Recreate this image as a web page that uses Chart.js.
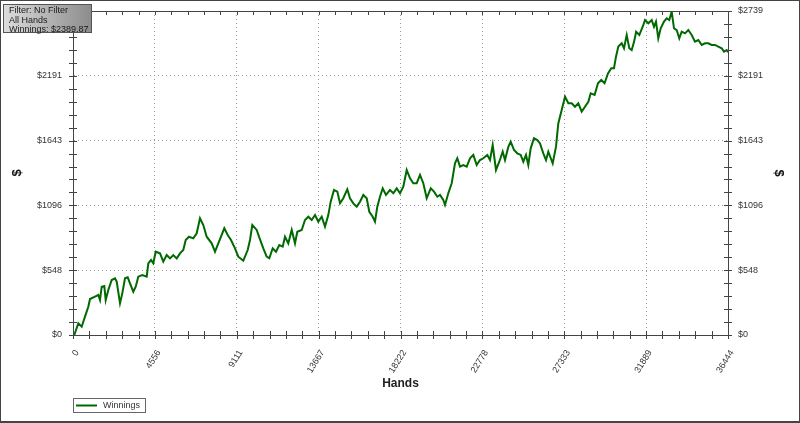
<!DOCTYPE html>
<html>
<head>
<meta charset="utf-8">
<script src="https://cdn.jsdelivr.net/npm/chart.js@4/dist/chart.umd.min.js"></script>
<style>
  body { margin: 0; background: #fff; }
  #wrap { position: relative; width: 800px; height: 423px; }
  #frame { position: absolute; left: 0; top: 0; width: 800px; height: 423px; box-sizing: border-box;
           border-style: solid; border-color: #444; border-width: 1px 1px 2px 1px; pointer-events: none; }
  #info { position: absolute; left: 3px; top: 4px; width: 89px; height: 29px; box-sizing: border-box;
          border: 1px solid #555; background: linear-gradient(to right, #dcdcdc, #8c8c8c);
          font: 9px "Liberation Sans", Arial, sans-serif; color: #1a1a1a; line-height: 9.6px;
          padding: 1px 0 0 5px; }
</style>
</head>
<body>
<div id="wrap">
  <canvas id="winChart" width="800" height="423"></canvas>
  <div id="info">Filter: No Filter<br>All Hands<br>Winnings: $2389.87</div>
  <div id="frame"></div>
</div>
<script>
// hands played vs cumulative winnings
const hands = [0, 72, 295, 484, 668, 851, 946, 1224, 1408, 1502, 1597, 1742, 1820, 1964, 2153, 2337, 2431,
  2615, 2743, 2893, 3044, 3171, 3355, 3489, 3633, 3856, 4101, 4190, 4340, 4468, 4602, 4841, 5024, 5213,
  5397, 5581, 5770, 5953, 6137, 6271, 6454, 6693, 6883, 7066, 7250, 7439, 7717, 7901, 8085, 8235, 8418,
  8608, 8791, 9014, 9197, 9476, 9720, 9848, 9976, 10221, 10350, 10588, 10777, 10922, 11111, 11295, 11479,
  11668, 11796, 11979, 12169, 12352, 12480, 12725, 12908, 13092, 13281, 13465, 13648, 13838, 14021, 14205,
  14338, 14522, 14706, 14856, 15040, 15262, 15412, 15596, 15785, 15969, 16153, 16342, 16487, 16675, 16803,
  16931, 17081, 17232, 17415, 17638, 17822, 18011, 18194, 18378, 18567, 18751, 18934, 19124, 19307, 19491,
  19680, 19903, 20086, 20270, 20420, 20603, 20698, 20882, 21071, 21254, 21382, 21533, 21717, 21906, 22089,
  22273, 22462, 22645, 22829, 23052, 23202, 23352, 23535, 23719, 23908, 24036, 24225, 24353, 24537, 24721,
  24910, 25055, 25205, 25333, 25466, 25650, 25834, 25984, 26168, 26318, 26446, 26691, 26874, 27002, 27191,
  27375, 27559, 27748, 27931, 28115, 28304, 28488, 28672, 28805, 29021, 29210, 29393, 29577, 29766, 29950,
  30100, 30213, 30341, 30530, 30658, 30808, 30953, 31086, 31220, 31331, 31509, 31698, 31826, 32010, 32199,
  32327, 32438, 32566, 32700, 32883, 33033, 33178, 33311, 33439, 33589, 33734, 33867, 34052, 34235, 34424,
  34608, 34792, 34981, 35164, 35348, 35537, 35721, 35905, 36094, 36222, 36372, 36444];
const winnings = [0, 0, 99, 70, 155, 239, 304, 324, 338, 296, 408, 414, 296, 380, 465, 479, 451,
  268, 352, 479, 488, 437, 366, 408, 493, 507, 493, 606, 634, 606, 704, 690, 620, 676,
  648, 676, 648, 690, 718, 803, 831, 817, 860, 987, 930, 831, 775, 704, 775, 831, 902,
  845, 803, 733, 662, 628, 718, 803, 930, 888, 831, 733, 662, 648, 733, 704, 761,
  747, 831, 775, 888, 775, 873, 888, 972, 1000, 972, 1014, 958, 1000, 916, 1014,
  1127, 1226, 1212, 1113, 1156, 1232, 1156, 1113, 1085, 1127, 1184, 1156, 1042, 1000, 958,
  1085, 1169, 1240, 1184, 1226, 1198, 1240, 1198, 1254, 1395, 1325, 1283, 1283, 1353, 1283,
  1156, 1240, 1212, 1169, 1184, 1141, 1099, 1198, 1283, 1451, 1494, 1423, 1437, 1423,
  1494, 1522, 1437, 1479, 1494, 1522, 1479, 1606, 1395, 1465, 1550, 1479, 1592, 1634, 1564,
  1536, 1522, 1465, 1522, 1437, 1578, 1663, 1648, 1620, 1536, 1479, 1550, 1451, 1592, 1788,
  1902, 2015, 1959, 1959, 1930, 1959, 1888, 1930, 1972, 2043, 2029, 2128, 2156, 2128, 2212,
  2255, 2255, 2353, 2438, 2466, 2424, 2536, 2424, 2409, 2480, 2564, 2536, 2606, 2663, 2635,
  2663, 2606, 2649, 2508, 2593, 2649, 2677, 2663, 2733, 2593, 2578, 2508, 2564, 2550, 2578,
  2536, 2480, 2494, 2452, 2466, 2466, 2452, 2452, 2438, 2424, 2396, 2409, 2389.87];

const xTickLabels = ['0', '4556', '9111', '13667', '18222', '22778', '27333', '31889', '36444'];
const yTickLabels = ['$0', '$548', '$1096', '$1643', '$2191', '$2739'];
const xMax = 36444;
const yMax = 2739;

const axisColor = '#444';
const tickFont = { family: 'Liberation Sans', size: 9 };

// 5 minor steps per labelled step
function minorTicks(max, n) {
  return scale => {
    const out = [];
    for (let i = 0; i <= n; i++) out.push({ value: max * i / n });
    scale.ticks = out;
  };
}

// keep the plot box where the reference has it, whatever the label sizes
function fixBox(prop, size) {
  return s => {
    s[prop] = size;
    s.paddingTop = 0; s.paddingBottom = 0; s.paddingLeft = 0; s.paddingRight = 0;
  };
}

const gridColor = ctx => (ctx.index % 5 === 0 ? '#9a9a9a' : 'rgba(0,0,0,0)');

// tick marks crossing each axis, and the boxed legend
const extras = {
  id: 'extras',
  afterDraw(chart) {
    const ctx = chart.ctx;
    const a = chart.chartArea;
    ctx.save();
    ctx.strokeStyle = axisColor;
    ctx.lineWidth = 1;
    ctx.beginPath();
    chart.scales.x.ticks.forEach(t => {
      const px = Math.round(chart.scales.x.getPixelForValue(t.value)) + 0.5;
      ctx.moveTo(px, a.bottom - 4); ctx.lineTo(px, a.bottom + 4);
      ctx.moveTo(px, a.top); ctx.lineTo(px, a.top + 4);
    });
    chart.scales.y.ticks.forEach(t => {
      const py = Math.round(chart.scales.y.getPixelForValue(t.value)) + 0.5;
      ctx.moveTo(a.left - 4, py); ctx.lineTo(a.left + 4, py);
      ctx.moveTo(a.right - 4, py); ctx.lineTo(a.right + 4, py);
    });
    ctx.stroke();

    const ds = chart.data.datasets[0];
    ctx.strokeStyle = '#666';
    ctx.strokeRect(73.5, 398.5, 72, 14);
    ctx.strokeStyle = ds.borderColor;
    ctx.lineWidth = 2;
    ctx.beginPath();
    ctx.moveTo(76, 405.5); ctx.lineTo(97, 405.5);
    ctx.stroke();
    ctx.fillStyle = '#333';
    ctx.font = '9px "Liberation Sans", Arial, sans-serif';
    ctx.textBaseline = 'middle';
    ctx.fillText(ds.label, 103, 406);
    ctx.restore();
  }
};

new Chart(document.getElementById('winChart'), {
  type: 'line',
  data: {
    datasets: [{
      label: 'Winnings',
      data: hands.map((h, i) => ({ x: h, y: winnings[i] })),
      borderColor: '#006a00',
      borderWidth: 2,
      pointRadius: 0,
      tension: 0,
      xAxisID: 'x',
      yAxisID: 'y'
    }]
  },
  options: {
    responsive: false,
    animation: false,
    layout: { padding: 0 },
    plugins: { legend: { display: false }, tooltip: { enabled: false } },
    scales: {
      x: {
        type: 'linear', position: 'bottom', min: 0, max: xMax,
        afterBuildTicks: minorTicks(xMax, 40),
        afterFit: fixBox('height', 88),
        grid: { color: gridColor, drawTicks: false },
        border: { color: axisColor, width: 1, dash: [1, 3] },
        ticks: {
          color: '#333', font: tickFont, padding: 13, labelOffset: 4,
          minRotation: 58, maxRotation: 58, autoSkip: false,
          callback: (v, i) => (i % 5 === 0 ? xTickLabels[i / 5] : '')
        },
        title: { display: true, text: 'Hands', color: '#222', font: { family: 'Liberation Sans', size: 12, weight: 'bold' },
          padding: { top: 0, bottom: 32 } }
      },
      xTop: {
        type: 'linear', position: 'top', min: 0, max: xMax,
        afterFit: fixBox('height', 11),
        grid: { drawOnChartArea: false, drawTicks: false },
        border: { color: axisColor, width: 1 },
        ticks: { display: false }
      },
      y: {
        type: 'linear', position: 'left', min: 0, max: yMax,
        afterBuildTicks: minorTicks(yMax, 25),
        afterFit: fixBox('width', 73),
        grid: { color: gridColor, drawTicks: false },
        border: { color: axisColor, width: 1, dash: [1, 3] },
        ticks: {
          color: '#333', font: tickFont, padding: 11, autoSkip: false,
          callback: (v, i) => (i % 5 === 0 ? yTickLabels[i / 5] : '')
        },
        title: { display: true, text: '$', color: '#111', font: { family: 'Liberation Sans', size: 13, weight: 'bold' },
          padding: { top: 10, bottom: 0 } }
      },
      yRight: {
        type: 'linear', position: 'right', min: 0, max: yMax,
        afterBuildTicks: minorTicks(yMax, 25),
        afterFit: fixBox('width', 72),
        grid: { drawOnChartArea: false, drawTicks: false },
        border: { color: axisColor, width: 1 },
        ticks: {
          color: '#333', font: tickFont, padding: 10, autoSkip: false,
          callback: (v, i) => (i % 5 === 0 ? yTickLabels[i / 5] : '')
        },
        title: { display: true, text: '$', color: '#111', font: { family: 'Liberation Sans', size: 13, weight: 'bold' },
          padding: { top: 14, bottom: 0 } }
      }
    }
  },
  plugins: [extras]
});
</script>
</body>
</html>
